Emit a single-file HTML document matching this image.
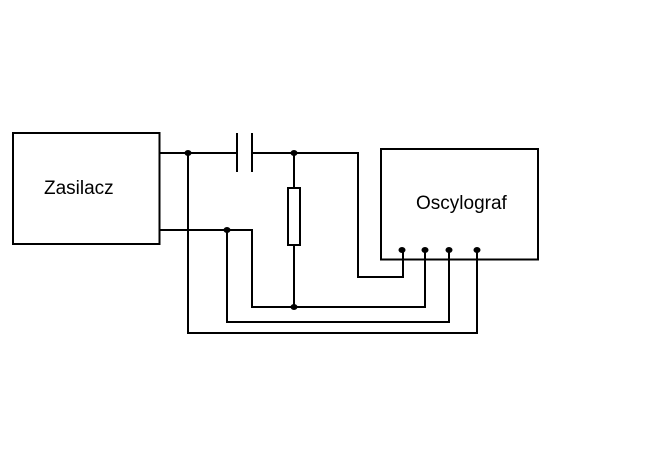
<!DOCTYPE html>
<html><head><meta charset="utf-8"><style>
html,body{margin:0;padding:0;background:#fff;}
svg{display:block;}
text{font-family:"Liberation Sans",Arial,sans-serif;font-size:19px;fill:#000;}
</style></head><body>
<svg width="658" height="457" viewBox="0 0 658 457" xmlns="http://www.w3.org/2000/svg">
<g fill="none" stroke="#000" stroke-width="2">
<rect x="13" y="133" width="146.5" height="111"/>
<rect x="381" y="149" width="157" height="110.5"/>
<polyline points="160,153 237,153"/>
<line x1="237" y1="133" x2="237" y2="172"/>
<line x1="252" y1="133" x2="252" y2="172"/>
<polyline points="252,153 358,153 358,277 403,277 403,250"/>
<polyline points="160,230 252,230 252,307 425,307 425,250"/>
<polyline points="227,230 227,322 449,322 449,250"/>
<polyline points="188,153 188,333 477,333 477,250"/>
<line x1="294" y1="153" x2="294" y2="188"/>
<rect x="288" y="188" width="12" height="57"/>
<line x1="294" y1="245" x2="294" y2="307"/>
</g>
<g fill="#000">
<ellipse cx="188" cy="153" rx="3.5" ry="3"/>
<ellipse cx="294" cy="153" rx="3.5" ry="3"/>
<ellipse cx="227" cy="230" rx="3.5" ry="3"/>
<ellipse cx="294" cy="307" rx="3.5" ry="3"/>
<ellipse cx="402" cy="250" rx="3.5" ry="3"/>
<ellipse cx="425" cy="250" rx="3.5" ry="3"/>
<ellipse cx="449" cy="250" rx="3.5" ry="3"/>
<ellipse cx="477" cy="250" rx="3.5" ry="3"/>
</g>
<text x="44" y="194">Zasilacz</text>
<text x="416" y="209">Oscylograf</text>
</svg>
</body></html>
